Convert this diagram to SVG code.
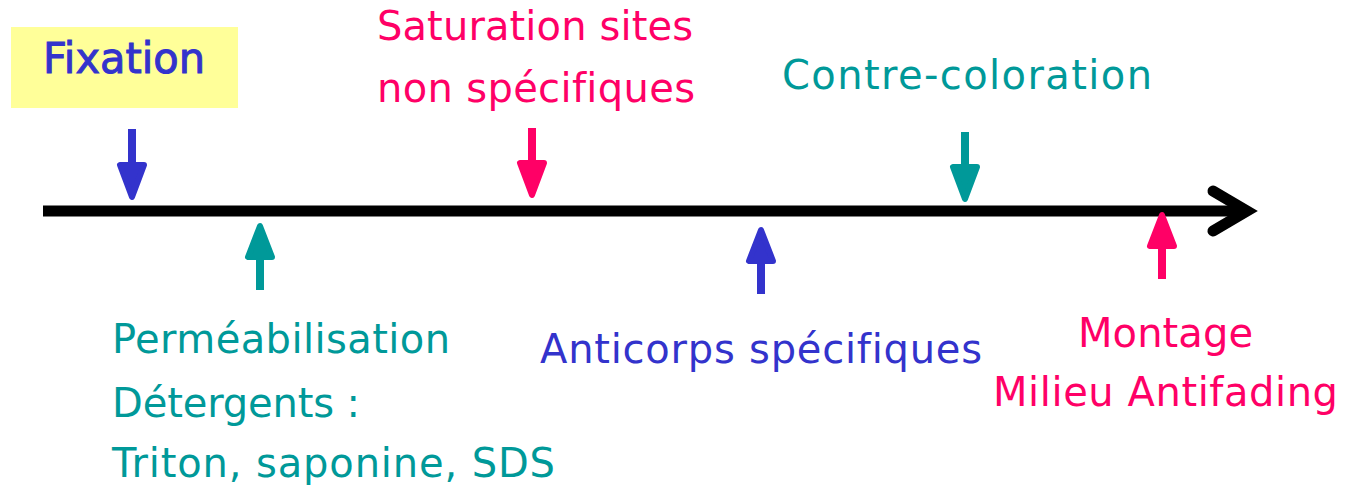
<svg xmlns="http://www.w3.org/2000/svg" width="1346" height="485" viewBox="0 0 1346 485">
<style>
text{font-family:"DejaVu Sans","Noto Sans",sans-serif;font-size:40px;font-variant-ligatures:none}
.blue{fill:#3333CC}
.pink{fill:#FF0066}
.teal{fill:#009999}
.shaft{fill:none;stroke-width:8}
.head{stroke-width:6;stroke-linejoin:round}
.sb{stroke:#3333CC}.fb{fill:#3333CC}
.sp{stroke:#FF0066}.fp{fill:#FF0066}
.st{stroke:#009999}.ft{fill:#009999}
</style>
<rect width="1346" height="485" fill="#FFFFFF"/>
<g id="fixation">
<rect x="11" y="27" width="227" height="81" fill="#FFFF99"/>
<text x="43" y="73" class="blue" textLength="162" lengthAdjust="spacingAndGlyphs" style="font-size:42px;stroke:#3333CC;stroke-width:1">Fixation</text>
</g>
<g id="saturation">
<text x="377" y="40" class="pink" textLength="316" lengthAdjust="spacing">Saturation sites</text>
<text x="377" y="102" class="pink" textLength="318" lengthAdjust="spacing">non spécifiques</text>
</g>
<g id="contre-coloration">
<text x="782" y="89" class="teal" textLength="370" lengthAdjust="spacing">Contre-coloration</text>
</g>
<g id="permeabilisation">
<text x="112" y="353" class="teal" textLength="338" lengthAdjust="spacing">Perméabilisation</text>
<text x="112" y="417" class="teal" textLength="248" lengthAdjust="spacing">Détergents :</text>
<text x="112" y="477" class="teal" textLength="443" lengthAdjust="spacing">Triton, saponine, SDS</text>
</g>
<g id="anticorps">
<text x="540" y="363" class="blue" textLength="442" lengthAdjust="spacing">Anticorps spécifiques</text>
</g>
<g id="montage">
<text x="1078" y="347" class="pink" textLength="175" lengthAdjust="spacing">Montage</text>
<text x="993" y="406" class="pink" textLength="345" lengthAdjust="spacing">Milieu Antifading</text>
</g>
<g id="connectors">
<g id="timeline" fill="none" stroke="#000000" stroke-width="11">
<line x1="43" y1="211" x2="1247" y2="211"/>
<polyline points="1213,191 1247,211 1213,231" stroke-linecap="round" stroke-linejoin="miter" stroke-miterlimit="10"/>
</g>
<g id="arrow-fixation">
<line class="shaft sb" x1="132" y1="129" x2="132" y2="172"/>
<polygon class="head sb fb" points="120,165 144,165 132,197"/>
</g>
<g id="arrow-saturation">
<line class="shaft sp" x1="532" y1="128" x2="532" y2="170"/>
<polygon class="head sp fp" points="520,163 544,163 532,195"/>
</g>
<g id="arrow-contre">
<line class="shaft st" x1="965" y1="132" x2="965" y2="174"/>
<polygon class="head st ft" points="953,167 977,167 965,199"/>
</g>
<g id="arrow-permeabilisation">
<line class="shaft st" x1="260" y1="290" x2="260" y2="250"/>
<polygon class="head st ft" points="248,257 272,257 260,226"/>
</g>
<g id="arrow-anticorps">
<line class="shaft sb" x1="761" y1="294" x2="761" y2="254"/>
<polygon class="head sb fb" points="749,261 773,261 761,230"/>
</g>
<g id="arrow-montage">
<line class="shaft sp" x1="1162" y1="279" x2="1162" y2="239"/>
<polygon class="head sp fp" points="1150,246 1174,246 1162,215"/>
</g>
</g>
</svg>
